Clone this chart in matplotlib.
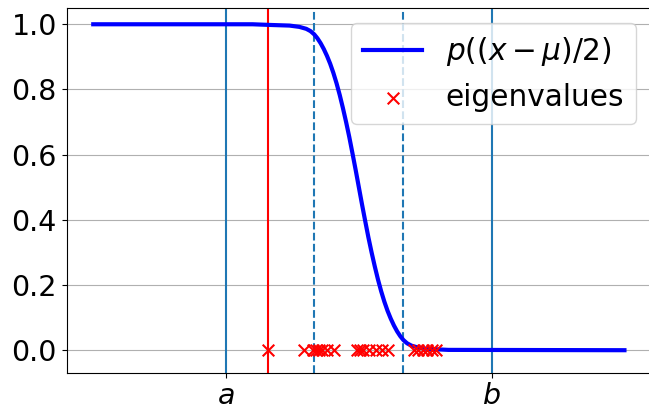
import matplotlib
matplotlib.use("Agg")
import matplotlib.pyplot as plt

# interval and filter parameters
a_val, b_val = 0.0, 1.0
dashed_lines = [0.333, 0.668]
red_line = 0.158

# curve p((x - mu)/2)
curve_x = [-0.5, 0.10, 0.163, 0.239, 0.276, 0.302, 0.318, 0.332, 0.344, 0.356,
           0.368, 0.380, 0.392, 0.404, 0.416, 0.428, 0.440, 0.452, 0.464, 0.476,
           0.488, 0.500, 0.512, 0.524, 0.536, 0.548, 0.560, 0.572, 0.584, 0.596,
           0.608, 0.620, 0.632, 0.644, 0.656, 0.668, 0.682, 0.698, 0.724, 0.761,
           0.837, 1.5]
curve_y = [1.0, 1.0, 0.998, 0.996, 0.992, 0.986, 0.979, 0.969, 0.957, 0.942,
           0.924, 0.903, 0.879, 0.851, 0.819, 0.783, 0.743, 0.700, 0.654, 0.604,
           0.553, 0.500, 0.447, 0.396, 0.346, 0.300, 0.257, 0.217, 0.181, 0.149,
           0.121, 0.097, 0.076, 0.058, 0.043, 0.031, 0.021, 0.014, 0.008, 0.004,
           0.001, 0.0]

# eigenvalues
eigenvalues = [0.158, 0.294, 0.328, 0.340, 0.351, 0.362, 0.381, 0.408,
               0.494, 0.506, 0.517, 0.540, 0.566, 0.589, 0.608,
               0.709, 0.721, 0.740, 0.758, 0.774, 0.792]
eig_y = [0.0] * len(eigenvalues)

tick_labels = ["$a$", "$b$"]

fig = plt.figure(figsize=(6.49, 4.07), dpi=100)
ax = fig.add_axes([66.7 / 649, (407 - 372.7) / 407, (651 - 66.7) / 649, (372.7 - 8.3) / 407])

ax.plot(curve_x, curve_y, color="blue", lw=3, label=r"$p((x-\mu)/2)$", zorder=3,
        solid_joinstyle="round")
ax.scatter(eigenvalues, eig_y, marker="x", color="red", s=70, linewidths=1.5,
           label="eigenvalues", zorder=4)
ax.axvline(a_val, color="C0", lw=1.5)
ax.axvline(b_val, color="C0", lw=1.5)
for d in dashed_lines:
    ax.axvline(d, color="C0", lw=1.5, ls="--")
ax.axvline(red_line, color="red", lw=1.5)

ax.set_xlim(-0.6, 1.6)
ax.set_ylim(-0.069, 1.049)
ax.set_xticks([a_val, b_val])
ax.set_xticklabels(tick_labels)
ax.set_yticks([0.0, 0.2, 0.4, 0.6, 0.8, 1.0])
ax.tick_params(labelsize=20.5)
ax.yaxis.grid(True, color="#b0b0b0", lw=0.8)
ax.set_axisbelow(True)
ax.legend(loc="upper right", fontsize=21.3)

fig.savefig("out.png", dpi=100)
